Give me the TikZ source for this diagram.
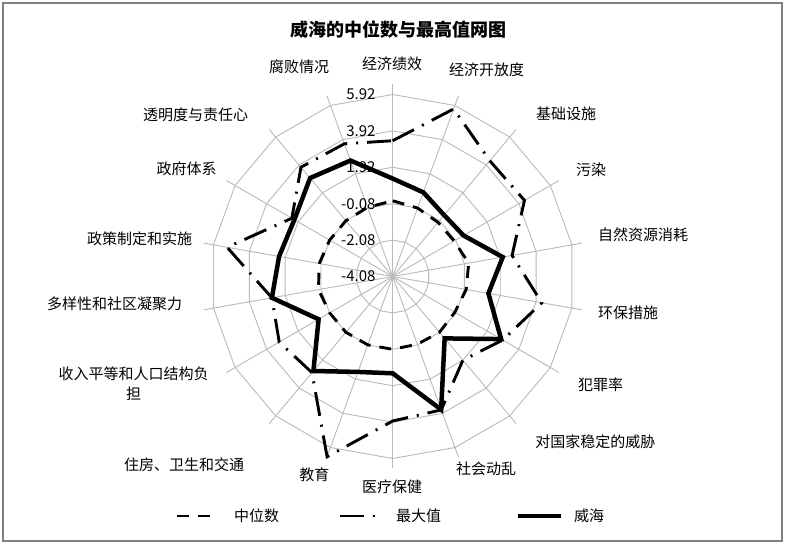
\documentclass[tikz,border=0pt]{standalone}
\usepackage{fontspec}
\setmainfont{Noto Sans CJK SC}
\usetikzlibrary{positioning}

\begin{document}
\begin{tikzpicture}[x=1pt,y=1pt,
    grid/.style={gray!55,line width=0.9pt},
    median/.style={line width=2.9pt,dash pattern=on 12pt off 9pt},
    maxval/.style={line width=2.9pt,dash pattern=on 24pt off 9pt on 2pt off 9pt},
    weihai/.style={line width=4.5pt},
    lbl/.style={font=\fontsize{15}{20}\selectfont,inner sep=0pt}]
  \def\ring{36.4}
  \useasboundingbox (0,0) rectangle (785,545);
  \draw[black!50,line width=1.2pt] (3,4) rectangle (782,542);
  \node[lbl,font=\fontsize{18}{20}\selectfont\bfseries] (title) at (398.3,515.7) {威海的中位数与最高值网图};

  \begin{scope}[shift={(392.7,268.5)}]
    \coordinate (O) at (0,0);
    % web
    \foreach \k in {0,...,17} {
      \coordinate (s\k) at ({90-20*\k}:192);
      \draw[grid] (O) -- (s\k);
    }
    \foreach \r in {1,...,5}
      \draw[grid] (90:{\r*\ring}) \foreach \k in {1,...,17} { -- ({90-20*\k}:{\r*\ring}) } -- cycle;
    \foreach \lab [count=\i from 0] in {-4.08,-2.08,-0.08,1.92,3.92,5.92}
      \node[lbl,anchor=east] (v\i) at (-17,{\i*\ring}) {\lab};

    % series, in ring units
    \foreach \v [count=\k from 0] in {2.08,2.00,1.94,1.95,2.12,2.05,1.97,2.00,1.98,2.00,2.00,2.00,2.00,2.07,2.05,2.00,2.00,2.02}
      \coordinate (md\k) at ({90-20*\k}:{\v*\ring});
    \foreach \v [count=\k from 0] in {3.73,4.90,4.15,4.18,3.33,4.16,3.49,3.00,3.90,3.97,5.27,3.45,3.60,3.37,4.62,3.20,3.92,3.88}
      \coordinate (mx\k) at ({90-20*\k}:{\v*\ring});
    \foreach \v [count=\k from 0] in {2.69,2.46,2.20,2.25,3.07,2.67,3.44,2.22,3.89,2.66,2.79,3.39,2.35,3.37,3.17,3.12,3.53,3.39}
      \coordinate (wh\k) at ({90-20*\k}:{\v*\ring});

    \draw[median] (md0) \foreach \k in {1,...,17} { -- (md\k) } -- cycle;
    \draw[maxval] (mx0) \foreach \k in {1,...,17} { -- (mx\k) } -- cycle;
    \draw[weihai] (wh0) \foreach \k in {1,...,17} { -- (wh\k) } -- cycle;
  \end{scope}

  % category labels
  \node[lbl] (econ)   at (392.2,481)   {经济绩效};
  \node[lbl] (open)   at (486.7,475)   {经济开放度};
  \node[lbl] (infra)  at (566,431)     {基础设施};
  \node[lbl] (poll)   at (591,375)     {污染};
  \node[lbl] (res)    at (643,310)     {自然资源消耗};
  \node[lbl] (env)    at (628,232)     {环保措施};
  \node[lbl] (crime)  at (600.7,160)   {犯罪率};
  \node[lbl] (threat) at (595.3,103.3) {对国家稳定的威胁};
  \node[lbl] (unrest) at (486,76)      {社会动乱};
  \node[lbl] (health) at (392,58)      {医疗保健};
  \node[lbl] (edu)    at (314.3,70.7)  {教育};
  \node[lbl] (house)  at (184.2,80.7)  {住房、卫生和交通};
  \node[lbl,align=center] (income) at (133.7,161.7) {收入平等和人口结构负\\担};
  \node[lbl] (div)    at (114.5,240.7) {多样性和社区凝聚力};
  \node[lbl] (policy) at (139.5,306.7) {政策制定和实施};
  \node[lbl] (gov)    at (186.7,376)   {政府体系};
  \node[lbl] (trans)  at (195.7,430)   {透明度与责任心};
  \node[lbl] (corr)   at (299.2,478.3) {腐败情况};

  % legend
  \coordinate (l1a) at (176.7,29); \coordinate (l1b) at (211,29);
  \coordinate (l2a) at (340,29);   \coordinate (l2b) at (377,29);
  \coordinate (l3a) at (518.3,29); \coordinate (l3b) at (560.7,29);
  \draw[median] (l1a) -- (l1b);
  \draw[maxval] (l2a) -- (l2b);
  \draw[weihai] (l3a) -- (l3b);
  \node[lbl,right=23pt of l1b] (k1) {中位数};
  \node[lbl,right=19pt of l2b] (k2) {最大值};
  \node[lbl,right=13.3pt of l3b] (k3) {威海};
\end{tikzpicture}
\end{document}
